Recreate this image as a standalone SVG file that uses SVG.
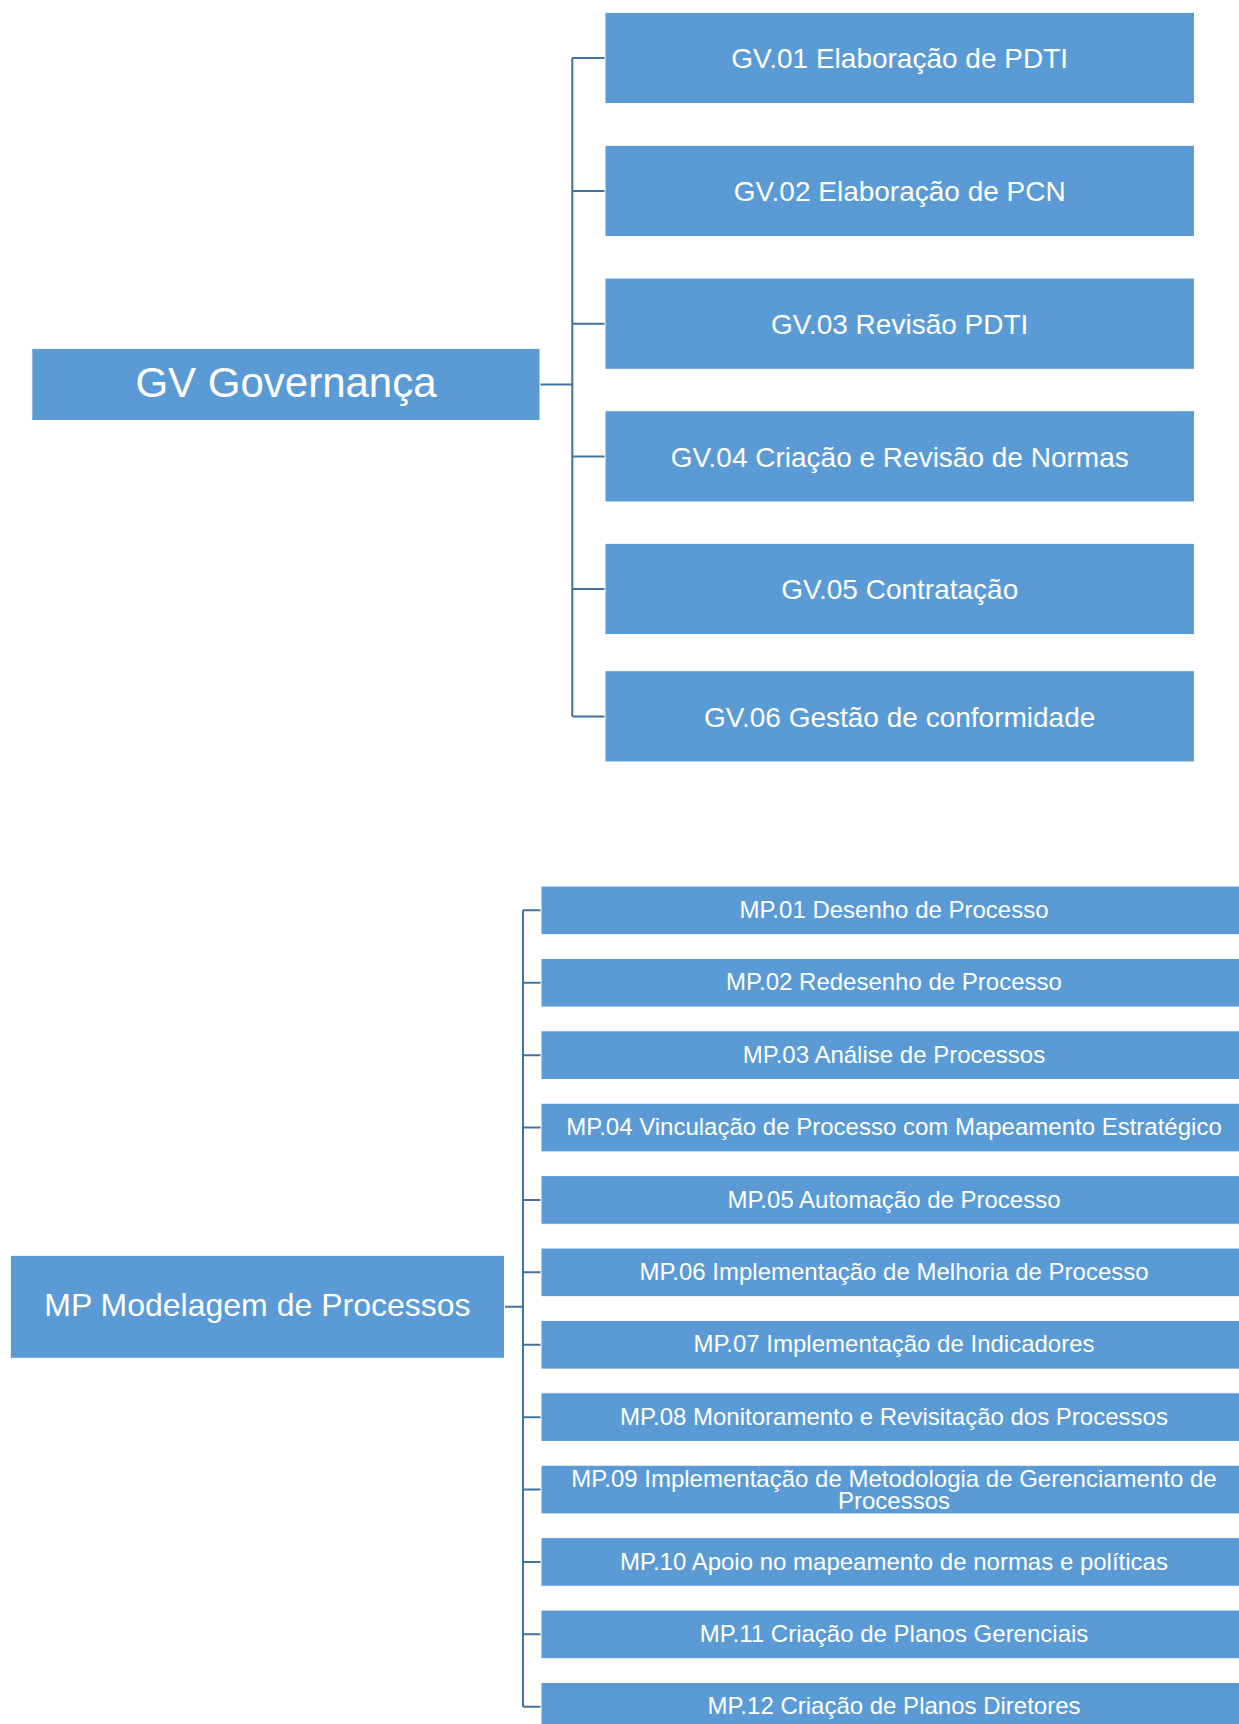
<svg xmlns="http://www.w3.org/2000/svg" width="1239" height="1724" viewBox="0 0 1239 1724">
<style>
.box{fill:#5B9BD5;stroke:#ffffff;stroke-width:1}
.t{fill:#ffffff;font-family:"Liberation Sans",Arial,sans-serif;text-anchor:middle}
.gv{font-size:28px}
.mp{font-size:24px}
.con{stroke:#41719C;stroke-width:2;fill:none}
</style>
<rect x="0" y="0" width="1239" height="1724" fill="#ffffff"/>
<g id="connectors">
<path class="con" d="M540 384.5H572.3M572.3 58V716.4M572.3 58H605M572.3 191H605M572.3 323.7H605M572.3 456.4H605M572.3 589H605M572.3 716.4H605"/>
<path class="con" d="M504.5 1306.8H523M523 910.35V1706.75M523 910.35H541M523 982.75H541M523 1055.15H541M523 1127.55H541M523 1199.95H541M523 1272.35H541M523 1344.75H541M523 1417.15H541M523 1489.55H541M523 1561.95H541M523 1634.35H541M523 1706.75H541"/>
</g>
<g id="gv-root"><rect class="box" x="31.8" y="348.3" width="508.2" height="72.2"/><text class="t" x="286" y="397" font-size="42">GV Governança</text></g>
<g id="gv01"><rect class="box" x="605" y="12.3" width="589.5" height="91.3"/><text class="t gv" x="899.7" y="68.3">GV.01 Elaboração de PDTI</text></g>
<g id="gv02"><rect class="box" x="605" y="145.3" width="589.5" height="91.3"/><text class="t gv" x="899.7" y="201.3">GV.02 Elaboração de PCN</text></g>
<g id="gv03"><rect class="box" x="605" y="278" width="589.5" height="91.3"/><text class="t gv" x="899.7" y="334">GV.03 Revisão PDTI</text></g>
<g id="gv04"><rect class="box" x="605" y="410.7" width="589.5" height="91.3"/><text class="t gv" x="899.7" y="466.7">GV.04 Criação e Revisão de Normas</text></g>
<g id="gv05"><rect class="box" x="605" y="543.3" width="589.5" height="91.3"/><text class="t gv" x="899.7" y="599.3">GV.05 Contratação</text></g>
<g id="gv06"><rect class="box" x="605" y="670.7" width="589.5" height="91.3"/><text class="t gv" x="899.7" y="726.7">GV.06 Gestão de conformidade</text></g>
<g id="mp-root"><rect class="box" x="10.3" y="1255.3" width="494.2" height="103"/><text class="t" x="257.4" y="1316" font-size="32">MP Modelagem de Processos</text></g>
<g id="mp01"><rect class="box" x="541" y="886" width="706" height="48.7"/><text class="t mp" x="894" y="918">MP.01 Desenho de Processo</text></g>
<g id="mp02"><rect class="box" x="541" y="958.4" width="706" height="48.7"/><text class="t mp" x="894" y="990.4">MP.02 Redesenho de Processo</text></g>
<g id="mp03"><rect class="box" x="541" y="1030.8" width="706" height="48.7"/><text class="t mp" x="894" y="1062.8">MP.03 Análise de Processos</text></g>
<g id="mp04"><rect class="box" x="541" y="1103.2" width="706" height="48.7"/><text class="t mp" x="894" y="1135.2">MP.04 Vinculação de Processo com Mapeamento Estratégico</text></g>
<g id="mp05"><rect class="box" x="541" y="1175.6" width="706" height="48.7"/><text class="t mp" x="894" y="1207.6">MP.05 Automação de Processo</text></g>
<g id="mp06"><rect class="box" x="541" y="1248" width="706" height="48.7"/><text class="t mp" x="894" y="1280">MP.06 Implementação de Melhoria de Processo</text></g>
<g id="mp07"><rect class="box" x="541" y="1320.4" width="706" height="48.7"/><text class="t mp" x="894" y="1352.4">MP.07 Implementação de Indicadores</text></g>
<g id="mp08"><rect class="box" x="541" y="1392.8" width="706" height="48.7"/><text class="t mp" x="894" y="1424.8">MP.08 Monitoramento e Revisitação dos Processos</text></g>
<g id="mp09"><rect class="box" x="541" y="1465.2" width="706" height="48.7"/><text class="t mp" x="894" y="1486.5">MP.09 Implementação de Metodologia de Gerenciamento de</text><text class="t mp" x="894" y="1509">Processos</text></g>
<g id="mp10"><rect class="box" x="541" y="1537.6" width="706" height="48.7"/><text class="t mp" x="894" y="1569.6">MP.10 Apoio no mapeamento de normas e políticas</text></g>
<g id="mp11"><rect class="box" x="541" y="1610" width="706" height="48.7"/><text class="t mp" x="894" y="1642">MP.11 Criação de Planos Gerenciais</text></g>
<g id="mp12"><rect class="box" x="541" y="1682.4" width="706" height="48.7"/><text class="t mp" x="894" y="1714.4">MP.12 Criação de Planos Diretores</text></g>
</svg>
